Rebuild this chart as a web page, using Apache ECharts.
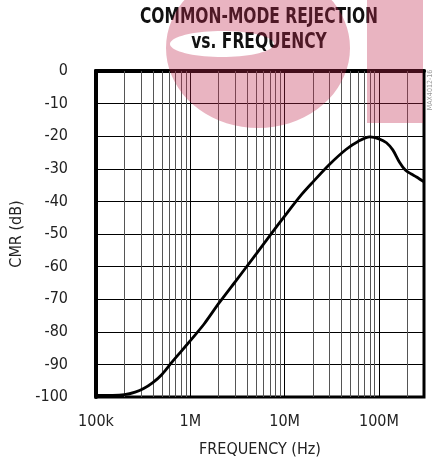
<!DOCTYPE html>
<html><head><meta charset="utf-8">
<script src="https://cdn.jsdelivr.net/npm/echarts@6/dist/echarts.min.js"></script>
<style>html,body{margin:0;padding:0;background:#fff}#c{width:434px;height:459px}</style>
</head><body><div id="c"></div>
<script>
// Data
const freqs = [1e5,1.5e5,2e5,2.6e5,3.2e5,4e5,5e5,6.35e5,8e5,1e6,1.4e6,2e6,3e6,5e6,7e6,1e7,1.5e7,2e7,3e7,4.5e7,6e7,8e7,1e8,1.2e8,1.4e8,1.65e8,1.9e8,2.2e8,2.5e8,3e8];
const cmr = [-99.5,-99.5,-99.3,-98.5,-97.4,-95.6,-93.1,-89.4,-86.0,-82.7,-77.6,-71.3,-64.6,-56.1,-50.4,-44.5,-38.0,-34.0,-28.6,-24.0,-21.6,-20.2,-20.8,-22.0,-24.2,-28.0,-30.4,-31.6,-32.5,-34.0];
const decades = [1e5,1e6,1e7,1e8];
const decadeLabels = ['100k','1M','10M','100M'];
const minorMultipliers = [2,3,4,5,6,7,8,9];
const xMin = 1e5, xMax = 3e8;
const yMin = -100, yMax = 0, yStep = 10;

const FONT = '"DejaVu Sans Condensed", "Liberation Sans Narrow", sans-serif';

const minorLines = [];
decades.forEach(d => minorMultipliers.forEach(m => { const v = d*m; if (v < xMax) minorLines.push({xAxis: v}); }));

// decorative watermark (keyhole polygon: ellipse with an inner hole)
function ellipsePts(cx, cy, rx, ry, dir) {
  const pts = [];
  for (let i = 0; i <= 72; i++) { const t = Math.PI + dir * i * 2 * Math.PI / 72; pts.push([cx + rx*Math.cos(t), cy + ry*Math.sin(t)]); }
  return pts;
}
const wmPts = ellipsePts(258, 48, 92, 80, 1).concat(ellipsePts(222, 44, 52, 13, -1));

const chart = echarts.init(document.getElementById('c'), null, {renderer:'canvas'});
chart.setOption({
  animation: false,
  backgroundColor: '#fff',
  grid: {left: 96, right: 10, top: 71, bottom: 62, containLabel: false, outerBoundsMode: 'none', show: true, borderColor: '#000', borderWidth: 3, backgroundColor: 'transparent'},
  xAxis: {
    type: 'log', logBase: 10, min: xMin, max: xMax,
    axisLine: {show: true, lineStyle: {color: '#000', width: 4}},
    axisTick: {show: false},
    splitLine: {show: true, lineStyle: {color: '#000', width: 1}},
    axisLabel: {
      margin: 17, fontSize: 16, fontFamily: FONT, color: '#222',
      formatter: v => { const e = Math.log10(v); const r = Math.round(e); return Math.abs(e - r) < 1e-6 && r >= 5 && r <= 8 ? decadeLabels[r-5] : ''; }
    },
    name: 'FREQUENCY (Hz)', nameLocation: 'middle', nameGap: 45,
    nameTextStyle: {fontSize: 16, fontFamily: FONT, color: '#222'}
  },
  yAxis: {
    type: 'value', min: yMin, max: yMax, interval: yStep,
    axisLine: {show: true, lineStyle: {color: '#000', width: 4}},
    axisTick: {show: false},
    splitLine: {show: true, lineStyle: {color: '#000', width: 1}},
    axisLabel: {margin: 28, fontSize: 16, fontFamily: FONT, color: '#222'},
    name: 'CMR (dB)', nameLocation: 'middle', nameGap: 66,
    nameTextStyle: {fontSize: 16, fontFamily: FONT, color: '#222'}
  },
  series: [
    {
      type: 'line', data: [], z: 1, silent: true,
      markLine: {silent: true, symbol: ['none','none'], label: {show: false}, animation: false,
        lineStyle: {color: '#555', width: 1, type: 'solid'}, data: minorLines}
    },
    {
      type: 'line', z: 5, smooth: 0.3, showSymbol: false, silent: true,
      data: freqs.map((f,i) => [f, cmr[i]]),
      lineStyle: {color: '#000', width: 2.8}
    }
  ],
  graphic: [
    {type:'text', x: 259, y: 18, scaleX: 0.82, z: 10, silent: true, style: {text: 'COMMON-MODE REJECTION', font: 'bold 21px ' + FONT, fill: '#111', textAlign: 'center', textVerticalAlign: 'middle', verticalAlign: 'middle'}},
    {type:'text', x: 259, y: 43, scaleX: 0.82, z: 10, silent: true, style: {text: 'vs. FREQUENCY', font: 'bold 21px ' + FONT, fill: '#111', textAlign: 'center', textVerticalAlign: 'middle', verticalAlign: 'middle'}},
    {type:'text', x: 430, y: 90, z: 10, rotation: Math.PI/2, silent: true, style: {text: 'MAX4012-16', font: '7px ' + FONT, fill: '#999', textAlign: 'center', textVerticalAlign: 'middle', verticalAlign: 'middle'}},
    {type:'polygon', z: 100, silent: true, shape: {points: wmPts}, style: {fill: 'rgb(192,41,78)', opacity: 0.35}},
    {type:'rect', z: 100, silent: true, shape: {x: 367, y: 0, width: 56, height: 123}, style: {fill: 'rgb(192,41,78)', opacity: 0.35}}
  ]
});
</script></body></html>
